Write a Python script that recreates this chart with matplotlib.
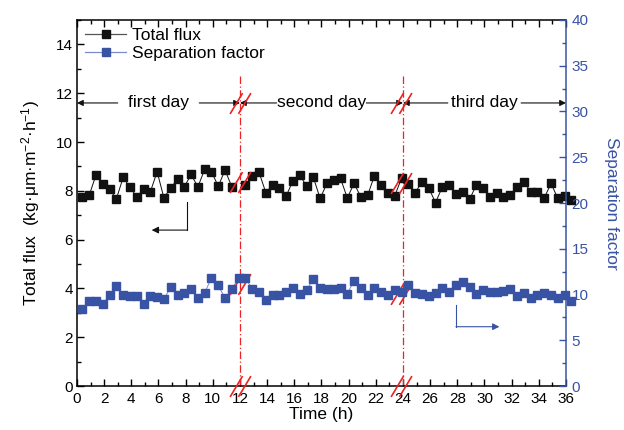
import numpy as np
import matplotlib
matplotlib.use('Agg')
import matplotlib.pyplot as plt
from matplotlib.path import Path
from matplotlib.lines import Line2D
from matplotlib.ticker import MultipleLocator

plt.rcParams['font.family'] = ['Liberation Sans', 'DejaVu Sans']
plt.rcParams['mathtext.fontset'] = 'custom'
plt.rcParams['mathtext.rm'] = 'Liberation Sans'
plt.rcParams['mathtext.it'] = 'Liberation Sans'

# sampling times (h), one reading every half hour
time_h = np.array([
    0.4, 0.9, 1.4, 1.9, 2.4, 2.9, 3.4, 3.9, 4.4, 4.9, 5.4, 5.9,
    6.4, 6.9, 7.4, 7.9, 8.4, 8.9, 9.4, 9.9, 10.4, 10.9, 11.4, 11.9,
    12.4, 12.9, 13.4, 13.9, 14.4, 14.9, 15.4, 15.9, 16.4, 16.9, 17.4, 17.9,
    18.4, 18.9, 19.4, 19.9, 20.4, 20.9, 21.4, 21.9, 22.4, 22.9, 23.4, 23.9,
    24.4, 24.9, 25.4, 25.9, 26.4, 26.9, 27.4, 27.9, 28.4, 28.9, 29.4, 29.9,
    30.4, 30.9, 31.4, 31.9, 32.4, 32.9, 33.4, 33.9, 34.4, 34.9, 35.4, 35.9,
    36.4])

# total flux, kg·um·m-2·h-1 (reading at 11.9 h hidden by the break)
total_flux = np.array([
    7.73, 7.82, 8.65, 8.28, 8.06, 7.67, 8.55, 8.14, 7.75, 8.06, 7.96, 8.78,
    7.71, 8.12, 8.47, 8.16, 8.67, 8.16, 8.88, 8.78, 8.19, 8.85, 8.16, np.nan,
    8.23, 8.60, 8.76, 7.93, 8.23, 8.10, 7.79, 8.41, 8.65, 8.19, 8.55, 7.69,
    8.30, 8.44, 8.51, 7.71, 8.30, 7.75, 7.82, 8.62, 8.23, 7.93, 7.80, 8.53,
    8.26, 7.92, 8.37, 8.10, 7.52, 8.16, 8.23, 7.85, 7.96, 7.65, 8.23, 8.10,
    7.75, 7.89, 7.75, 7.82, 8.14, 8.37, 7.96, 7.96, 7.71, 8.30, 7.69, 7.80,
    7.63])

# separation factor (right axis)
sep_factor = np.array([
    8.4, 9.3, 9.3, 9.0, 9.9, 10.9, 9.9, 9.8, 9.8, 9.0, 9.8, 9.7,
    9.5, 10.8, 9.9, 10.2, 10.6, 9.6, 10.2, 11.8, 11.0, 9.6, 10.6, 11.8,
    11.8, 10.6, 10.3, 9.4, 9.9, 10.0, 10.3, 10.7, 10.1, 10.5, 11.7, 10.7,
    10.6, 10.6, 10.7, 10.1, 11.5, 10.7, 9.9, 10.7, 10.3, 10.0, 10.5, 10.3,
    11.0, 10.2, 10.1, 9.8, 10.2, 10.7, 10.3, 11.0, 11.4, 10.8, 10.1, 10.5,
    10.3, 10.3, 10.4, 10.6, 9.8, 10.2, 9.6, 9.9, 10.2, 9.9, 9.6, 10.0,
    9.3])

day_labels = ['first day', 'second day', 'third day']
day_centers = [6, 18, 30]
day_bounds = [0, 12, 24, 36]

black = '#111111'
blue = '#3953a4'
red = '#ee2222'

fig = plt.figure(figsize=(6.24, 4.30), dpi=100)
ax = fig.add_axes([0.1234, 0.1023, 0.7836, 0.8512])
ax2 = ax.twinx()

ax.plot(time_h, total_flux, color=black, lw=0.7, marker='s', ms=5.2,
        mfc=black, mec=black, clip_on=False, zorder=3)
ax2.plot(time_h, sep_factor, color='#7d8cc8', lw=0.7, marker='s', ms=5.4,
         mfc=blue, mec=blue, clip_on=False, zorder=3)

ax.set_xlim(0, 36)
ax.set_ylim(0, 15)
ax2.set_ylim(0, 40)

ax.xaxis.set_major_locator(MultipleLocator(2))
ax.xaxis.set_minor_locator(MultipleLocator(1))
ax.yaxis.set_major_locator(MultipleLocator(2))
ax.yaxis.set_minor_locator(MultipleLocator(1))
ax.tick_params(which='both', direction='in', top=True, right=False, labelsize=11)
ax.tick_params(which='major', length=5, width=1, pad=3)
ax.tick_params(axis='x', which='major', pad=4)
ax.tick_params(which='minor', length=3, width=1)
for s in ['left', 'bottom', 'top']:
    ax.spines[s].set_linewidth(1.1)
ax.spines['right'].set_visible(False)

ax2.yaxis.set_major_locator(MultipleLocator(5))
ax2.yaxis.set_minor_locator(MultipleLocator(2.5))
ax2.tick_params(which='both', direction='in', colors=blue, labelsize=11)
ax2.tick_params(which='major', length=5, width=1, pad=4)
ax2.tick_params(which='minor', length=3, width=1)
ax2.spines['right'].set_color(blue)
ax2.spines['right'].set_linewidth(1.1)
for s in ['left', 'bottom', 'top']:
    ax2.spines[s].set_visible(False)

ax.set_xlabel('Time (h)', fontsize=12.5, labelpad=1)
ax.set_ylabel('Total flux  (kg·μm·m$^{-2}$·h$^{-1}$)',
              fontsize=12.5, labelpad=10)
ax2.set_ylabel('Separation factor', color=blue, fontsize=12.5,
               rotation=270, labelpad=22)

# day boundaries
for xb in day_bounds[1:3]:
    ax.axvline(xb, ymin=0, ymax=12.8 / 15, color=red, lw=0.9,
               ls=(0, (6, 2, 1, 2)), zorder=2)

# day arrows and labels
arrow_y = 11.6
text_half = [3.0, 3.3, 2.7]
for i, lab in enumerate(day_labels):
    c = day_centers[i]
    ax.text(c, arrow_y, lab, ha='center', va='center', fontsize=12.5)
    for tail, head in [(c - text_half[i], day_bounds[i]),
                       (c + text_half[i], day_bounds[i + 1])]:
        ax.annotate('', xy=(head, arrow_y), xytext=(tail, arrow_y),
                    arrowprops=dict(arrowstyle='-|>', color=black, lw=0.8,
                                    mutation_scale=9, shrinkA=0, shrinkB=0))

# axis-break symbols
brk = Path([(-1.0, -1.0), (0.2, 1.0), (-0.2, -1.0), (1.0, 1.0)],
           [Path.MOVETO, Path.LINETO, Path.MOVETO, Path.LINETO])
brk_x = [12, 12, 12, 12, 23.85, 23.85, 23.85, 23.85]
brk_y = [arrow_y, 8.37, 4.2, 0, arrow_y, 8.3, 3.77, 0]
ax.plot(brk_x, brk_y, ls='none', marker=brk, ms=15, mec=red, mew=1.2,
        mfc='none', clip_on=False, zorder=5)

# arrows telling which axis each series belongs to
ax.plot([8.12, 8.12], [7.55, 6.39], color=black, lw=0.8)
ax.annotate('', xy=(5.5, 6.39), xytext=(8.12, 6.39),
            arrowprops=dict(arrowstyle='-|>', color=black, lw=0.8,
                            mutation_scale=10, shrinkA=0, shrinkB=0))
ax2.plot([27.9, 27.9], [8.85, 6.48], color=blue, lw=0.8)
ax2.annotate('', xy=(31.1, 6.48), xytext=(27.9, 6.48),
             arrowprops=dict(arrowstyle='-|>', color=blue, lw=0.8,
                             mutation_scale=10, shrinkA=0, shrinkB=0))

handles = [Line2D([], [], color='#555555', lw=0.9, marker='s', ms=5.2,
                  mfc=black, mec=black),
           Line2D([], [], color='#7d8cc8', lw=0.9, marker='s', ms=5.4,
                  mfc=blue, mec=blue)]
ax2.legend(handles, ['Total flux', 'Separation factor'], loc='upper left',
           frameon=False, fontsize=12.5, handlelength=2.4, handletextpad=0.3,
           labelspacing=0.15, borderaxespad=0.25, borderpad=0.2)

fig.savefig('out.png', dpi=100)
